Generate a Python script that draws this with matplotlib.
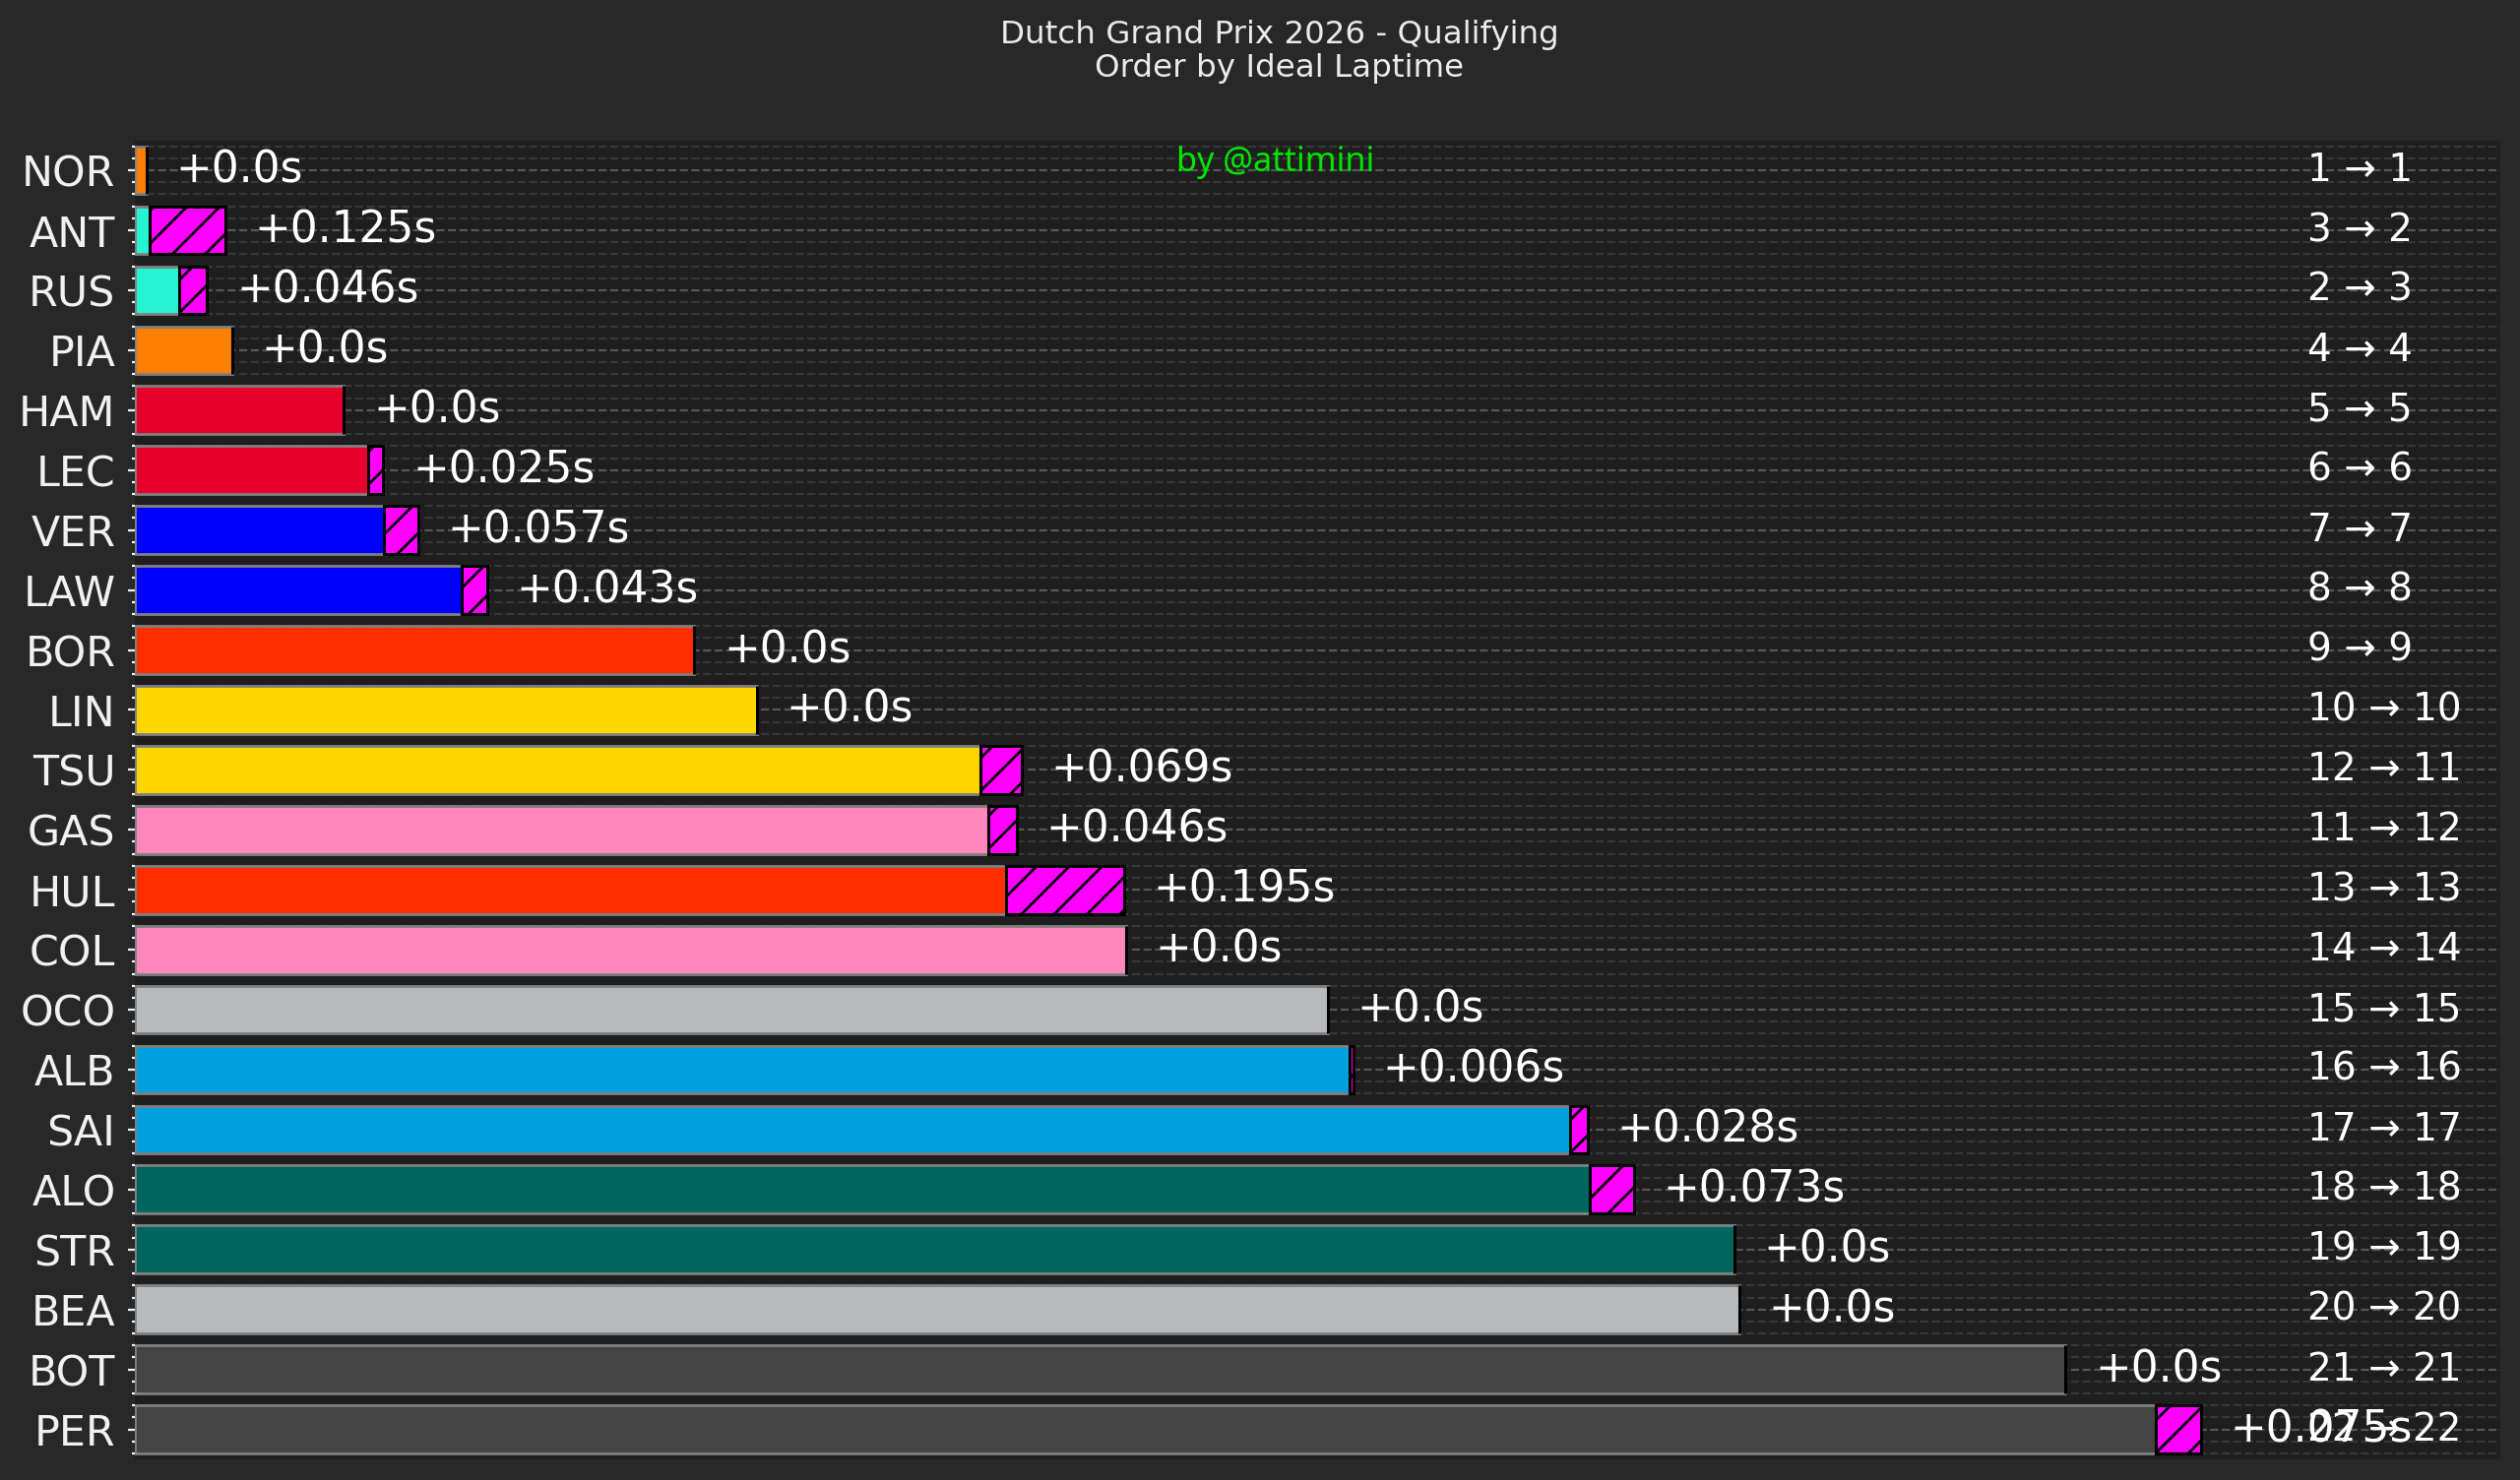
import matplotlib
matplotlib.use("Agg")
import matplotlib.pyplot as plt
from matplotlib.ticker import FixedLocator, AutoMinorLocator

plt.rcParams['font.family'] = ['DejaVu Sans']
plt.rcParams['hatch.linewidth'] = 1.0

# ---------------- data ----------------
drivers = ["NOR", "ANT", "RUS", "PIA", "HAM", "LEC", "VER", "LAW", "BOR", "LIN", "TSU",
           "GAS", "HUL", "COL", "OCO", "ALB", "SAI", "ALO", "STR", "BEA", "BOT", "PER"]
# gap of ideal laptime to the best ideal laptime (s)
ideal_gap = [0.000, 0.005, 0.054, 0.141, 0.326, 0.366, 0.392, 0.520, 0.905, 1.008, 1.377,
             1.391, 1.420, 1.618, 1.951, 1.987, 2.352, 2.384, 2.623, 2.631, 3.170, 3.319]
# actual laptime minus ideal laptime (s)
delta = [0.0, 0.125, 0.046, 0.0, 0.0, 0.025, 0.057, 0.043, 0.0, 0.0, 0.069,
         0.046, 0.195, 0.0, 0.0, 0.006, 0.028, 0.073, 0.0, 0.0, 0.0, 0.075]
# qualifying position (actual laptime)
quali_pos = [1, 3, 2, 4, 5, 6, 7, 8, 9, 10, 12, 11, 13, 14, 15, 16, 17, 18, 19, 20, 21, 22]
team_colors = ["#ff8000", "#27f4d2", "#27f4d2", "#ff8000", "#e8002d", "#e8002d", "#0000ff",
               "#0000ff", "#ff2d00", "#ffd700", "#ffd700", "#ff87bc", "#ff2d00", "#ff87bc",
               "#b6babd", "#00a0de", "#00a0de", "#00665f", "#00665f", "#b6babd", "#444444",
               "#444444"]

title_line1 = "Dutch Grand Prix 2026 - Qualifying"
title_line2 = "Order by Ideal Laptime"
credit = "by @attimini"

XMIN, XMAX = -0.019, 3.888

# ---------------- figure ----------------
fig = plt.figure(figsize=(12.8, 7.52), dpi=200, facecolor="#282828")
ax = fig.add_axes([0.0536, 0.01396, 0.9386, 0.8912])
ax.set_facecolor("#1e1e1e")

ypos = list(range(len(drivers)))
ax.barh(ypos, [g - XMIN for g in ideal_gap], left=XMIN, height=0.8,
        color=team_colors, edgecolor="#808080", linewidth=1.0, zorder=3)
ax.barh(ypos, delta, left=ideal_gap, height=0.8, color="#ff00ff",
        edgecolor="black", linewidth=1.1, hatch="//", zorder=3)

for i in ypos:
    ax.text(ideal_gap[i] + delta[i] + 0.048, i, f"+{delta[i]}s", color="white",
            fontsize=15.8, va="center", ha="left", zorder=4)
    ax.text(3.570, i, f"{quali_pos[i]} \u2192 {i + 1}", color="white",
            fontsize=14, va="center", ha="left", zorder=4)

ax.set_xlim(XMIN, XMAX)
ax.set_ylim(len(drivers) - 0.5, -0.5)
ax.yaxis.set_major_locator(FixedLocator(ypos))
ax.set_yticks(ypos)
ax.set_yticklabels(drivers)
ax.yaxis.set_minor_locator(AutoMinorLocator(5))
ax.tick_params(axis="y", which="major", labelsize=15.4, colors="#f1f1f1",
               length=2.6, width=0.8, pad=4.5)
ax.tick_params(axis="y", which="minor", colors="#f1f1f1", length=1.2, width=0.8)
ax.xaxis.set_visible(False)
for s in ax.spines.values():
    s.set_visible(False)

ax.grid(axis="y", which="major", linestyle="--", color="#575757", linewidth=0.8, zorder=0)
ax.grid(axis="y", which="minor", linestyle="--", color="#373737", linewidth=0.8, zorder=0)
ax.set_axisbelow(True)

ax.text(0.482, 0.983, credit, transform=ax.transAxes, color="#00e600",
        fontsize=12.3, fontweight="bold", family=["Noto Sans", "DejaVu Sans"],
        ha="center", va="center", zorder=5)

fig.text(0.5076, 1 - 44 / 1504, title_line1, color="#ebebeb", fontsize=11.7,
         ha="center", va="baseline")
fig.text(0.5076, 1 - 78 / 1504, title_line2, color="#ebebeb", fontsize=11.7,
         ha="center", va="baseline")

fig.savefig("out.png", dpi=200, facecolor=fig.get_facecolor())
